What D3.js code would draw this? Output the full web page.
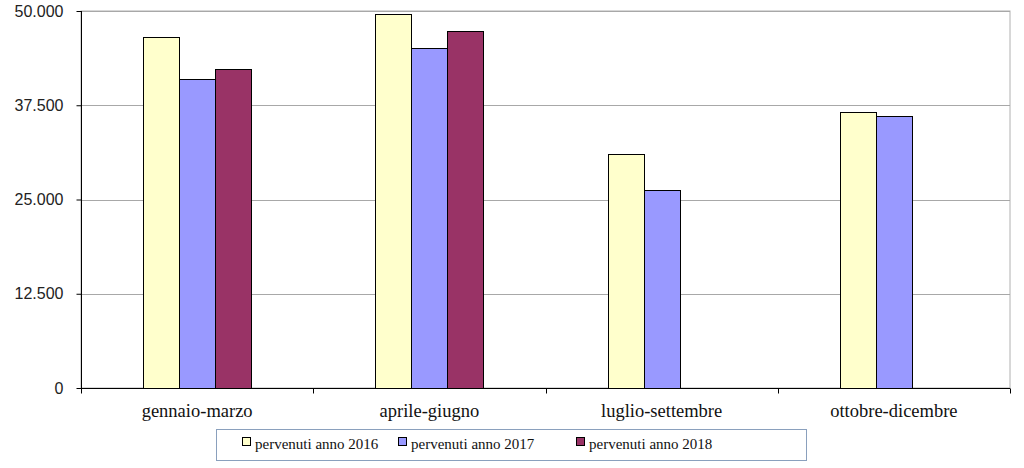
<!DOCTYPE html>
<html><head><meta charset="utf-8">
<script src="https://cdn.jsdelivr.net/npm/d3@7"></script>
<style>body{margin:0;background:#fff}svg{display:block}</style>
</head><body>
<svg id="c" width="1024" height="468"></svg>
<script>
const categories = ["gennaio-marzo", "aprile-giugno", "luglio-settembre", "ottobre-dicembre"];
const seriesNames = ["pervenuti anno 2016", "pervenuti anno 2017", "pervenuti anno 2018"];
const values2016 = [46500, 49600, 31100, 36600];
const values2017 = [41000, 45100, 26300, 36100];
const values2018 = [42300, 47300, null, null];
const yTicks = [0, 12500, 25000, 37500, 50000];
const colors = ["#FFFFCC", "#9999FF", "#993366"];

const series = [values2016, values2017, values2018];
const svg = d3.select("#c");
const m = {l: 81, t: 11, r: 1010, b: 388};
const x = d3.scaleBand().domain(categories).range([m.l, m.r]);
const xs = d3.scaleBand().domain(d3.range(series.length)).range([0, 108]);
const y = d3.scaleLinear().domain([0, 50000]).range([m.b, m.t]);
const fmt = v => d3.format(",")(v).replace(/,/g, ".");

// plot border (grey)
svg.append("rect").attr("x", m.l).attr("y", m.t).attr("width", m.r - m.l).attr("height", m.b - m.t)
  .attr("fill", "none").attr("stroke", "#b0b0b0");
// gridlines
svg.append("g").selectAll("line").data(yTicks.filter(d => d > 0)).join("line")
  .attr("x1", m.l).attr("x2", m.r).attr("y1", d => Math.round(y(d)) + 0.5).attr("y2", d => Math.round(y(d)) + 0.5)
  .attr("stroke", "#a8a8a8");

// bars
categories.forEach((c, ci) => {
  const g0 = x(c) + (x.bandwidth() - 108) / 2;
  series.forEach((s, si) => {
    const v = s[ci];
    if (v == null) return;
    svg.append("rect")
      .attr("x", Math.round(g0 + xs(si)) + 0.5)
      .attr("y", Math.round(y(v)) + 0.5)
      .attr("width", Math.round(xs.bandwidth()))
      .attr("height", Math.round(y(0)) - Math.round(y(v)))
      .attr("fill", colors[si]).attr("stroke", "#000").attr("stroke-width", 1);
  });
});

// y axis
const ya = svg.append("g").attr("transform", `translate(${m.l + 0.5},0)`)
  .call(d3.axisLeft(y).tickValues(yTicks).tickFormat(fmt).tickSize(5).tickPadding(13));
ya.select(".domain").attr("stroke", "#000").attr("d", `M0,${m.t}V${m.b + 5}`);
ya.selectAll(".tick line").attr("stroke", "#000");
ya.selectAll(".tick text").attr("font-family", "Liberation Sans, Arial, sans-serif").attr("font-size", 16).attr("fill", "#222");

// x axis
const xa = svg.append("g").attr("transform", `translate(0,${m.b + 0.5})`)
  .call(d3.axisBottom(x).tickSize(0).tickPadding(15));
xa.select(".domain").attr("stroke", "#000").attr("d", `M${m.l},0H${m.r}`);
xa.selectAll(".tick text").attr("font-family", "Liberation Serif, Times New Roman, serif").attr("font-size", 18.5).attr("fill", "#111");
// boundary ticks
const bounds = categories.map(c => x(c)).concat([m.r]);
xa.append("g").selectAll("line").data(bounds).join("line")
  .attr("x1", d => Math.round(d) + 0.5).attr("x2", d => Math.round(d) + 0.5).attr("y1", 0).attr("y2", 5).attr("stroke", "#000");

// legend
const lg = svg.append("g");
lg.append("rect").attr("x", 216.5).attr("y", 429.5).attr("width", 590).attr("height", 31)
  .attr("fill", "#fff").attr("stroke", "#8aa0bd");
const lx = [242, 398, 576];
seriesNames.forEach((n, i) => {
  lg.append("rect").attr("x", lx[i] + 0.5).attr("y", 437.5).attr("width", 8).attr("height", 8)
    .attr("fill", colors[i]).attr("stroke", "#000");
  lg.append("text").attr("x", lx[i] + 13).attr("y", 449).text(n)
    .attr("font-family", "Liberation Serif, Times New Roman, serif").attr("font-size", 15).attr("fill", "#111");
});
</script>
</body></html>
